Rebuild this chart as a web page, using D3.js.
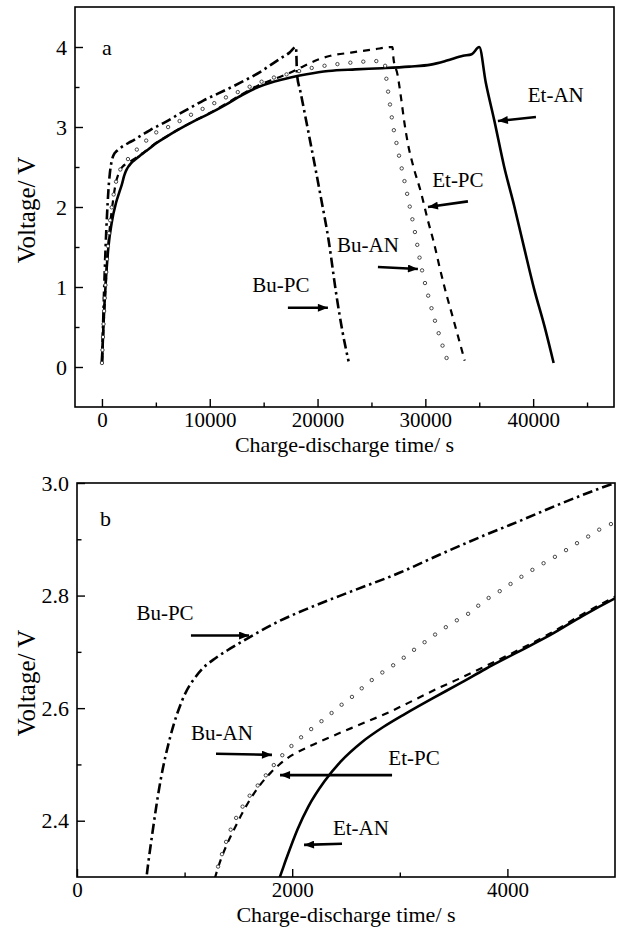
<!DOCTYPE html>
<html>
<head>
<meta charset="utf-8">
<script src="https://cdn.jsdelivr.net/npm/d3@7"></script>
<style>
body { margin: 0; background: #fff; }
svg text { font-family: "Liberation Serif", "Times New Roman", serif; fill: #000; }
</style>
</head>
<body>
<svg id="chart" width="622" height="928"></svg>
<script>
// charge-discharge curves, [time s, voltage V]
const etAN = [
  [0,0.05],[150,0.55],[350,1.05],[600,1.5],[900,1.8],[1300,2.05],[1600,2.18],[1885,2.3],[1950,2.335],[2050,2.385],
  [2150,2.425],[2300,2.47],[2450,2.505],[2650,2.54],[2850,2.567],[3050,2.59],[3300,2.617],[3550,2.643],[3800,2.67],
  [4100,2.70],[4400,2.73],[4700,2.764],[5000,2.795],
  [6000,2.88],[7000,2.96],[8500,3.07],[10000,3.17],[11500,3.28],[13000,3.4],[14500,3.5],[16000,3.57],[17500,3.62],
  [19000,3.66],[21000,3.7],[23500,3.72],[26000,3.735],[28500,3.755],[30500,3.78],[32000,3.83],[33500,3.89],[34300,3.91],
  [35000,4.0],[35600,3.56],[36400,3.08],[37300,2.51],[38250,2.01],[39200,1.47],[40100,0.97],[41050,0.51],[41900,0.05]
];
const etPC = [
  [0,0.05],[200,0.65],[450,1.25],[700,1.7],[1000,2.05],[1300,2.31],[1500,2.4],[1687,2.46],[1799,2.485],[1948,2.51],
  [2171,2.533],[2395,2.552],[2618,2.57],[2879,2.591],[3140,2.615],[3363,2.636],[3549,2.652],[3800,2.675],
  [4100,2.703],[4400,2.733],[4700,2.767],[5000,2.798],
  [6000,2.882],[7000,2.962],[8500,3.072],[10000,3.175],[11500,3.29],[13000,3.41],[14500,3.52],[16000,3.6],[17500,3.68],
  [18700,3.76],[20000,3.84],[21200,3.89],[23100,3.93],[25200,3.97],[26950,4.0],
  [27050,3.85],[27410,3.66],[27750,3.36],[28050,3.06],[28400,2.78],[28900,2.5],[29600,2.18],[30200,1.85],[30800,1.55],
  [31300,1.26],[31850,0.96],[32550,0.62],[33100,0.35],[33650,0.08]
];
const buPC = [
  [0,0.05],[120,0.6],[260,1.2],[400,1.7],[530,2.05],[652,2.309],[700,2.377],[775,2.47],[868,2.55],[980,2.615],
  [1128,2.662],[1296,2.69],[1426,2.706],[1594,2.725],[1873,2.754],[2171,2.779],[2544,2.807],[2991,2.84],[3363,2.872],
  [3736,2.903],[4108,2.932],[4480,2.962],[4853,2.99],[5000,3.0],
  [6000,3.07],[7000,3.15],[8200,3.24],[9400,3.33],[10800,3.42],[12200,3.51],[13500,3.6],[14700,3.69],[15700,3.78],
  [16600,3.86],[17400,3.93],[18000,4.0],
  [18100,3.65],[18400,3.45],[19160,2.93],[20280,2.14],[21020,1.59],[21770,0.88],[22330,0.43],[22880,0.07]
];
const buAN = [
  [0,0.05],[200,0.7],[450,1.3],[700,1.75],[1000,2.08],[1296,2.309],[1426,2.383],[1575,2.436],[1724,2.473],[1873,2.509],
  [2022,2.538],[2171,2.562],[2320,2.584],[2432,2.602],[2562,2.621],[2693,2.643],[2842,2.664],[2991,2.683],[3121,2.702],
  [3251,2.72],[3382,2.738],[3512,2.754],[3661,2.771],[3773,2.789],[3922,2.807],[4071,2.826],[4201,2.842],[4350,2.859],
  [4480,2.873],[4629,2.891],[4760,2.906],[4890,2.921],[5000,2.93],
  [6000,2.99],[7000,3.06],[8500,3.17],[10000,3.27],[11500,3.37],[13000,3.46],[14500,3.55],[16000,3.62],[17500,3.67],
  [18600,3.71],[19700,3.745],[20900,3.77],[22100,3.79],[24000,3.815],[26200,3.825],
  [26350,3.64],[26700,3.3],[27000,3.02],[27350,2.78],[27700,2.55],[28100,2.3],[28500,2.04],[29000,1.71],[29600,1.27],
  [30500,0.77],[31400,0.35],[32000,0.1]
];

// axis ticks
const aXMajor = [0, 10000, 20000, 30000, 40000];
const aXMinor = [5000, 15000, 25000, 35000, 45000];
const aYMajor = [0, 1, 2, 3, 4];
const aYMinor = [0.5, 1.5, 2.5, 3.5];
const bXMajor = [0, 2000, 4000];
const bXMinor = [1000, 3000];
const bYMajor = [2.4, 2.6, 2.8, 3.0];
const bYMinor = [2.5, 2.7, 2.9];

// labels with arrows: text anchor [t, V], arrow from -> to
const aNotes = [
  {label: 'Et-AN', at: [42100, 3.31], from: [40260, 3.125], to: [36730, 3.075]},
  {label: 'Et-PC', at: [33020, 2.25], from: [33950, 2.07], to: [30240, 2.0]},
  {label: 'Bu-AN', at: [24680, 1.44], from: [25600, 1.25], to: [29310, 1.225]},
  {label: 'Bu-PC', at: [16600, 0.94], from: [17250, 0.74], to: [20960, 0.74]}
];
const bNotes = [
  {label: 'Bu-PC', at: [818, 2.757], from: [1059, 2.729], to: [1599, 2.729]},
  {label: 'Bu-AN', at: [1348, 2.543], from: [1292, 2.519], to: [1812, 2.517]},
  {label: 'Et-PC', at: [3132, 2.499], from: [2928, 2.481], to: [1887, 2.481]},
  {label: 'Et-AN', at: [2639, 2.375], from: [2463, 2.359], to: [2110, 2.357]}
];

const svg = d3.select('#chart');

svg.append('defs').append('marker')
  .attr('id', 'head')
  .attr('viewBox', '0 0 10 8')
  .attr('refX', 10).attr('refY', 4)
  .attr('markerWidth', 11).attr('markerHeight', 8)
  .attr('markerUnits', 'userSpaceOnUse')
  .attr('orient', 'auto')
  .append('path').attr('d', 'M0,0 L10,4 L0,8 Z').attr('fill', '#000');

const series = [
  {data: etAN, width: 2.6, dash: null},
  {data: etPC, width: 2.2, dash: '7,6'},
  {data: buPC, width: 2.6, dash: '10,4,2.5,4'},
  {data: buAN, markers: true}
];

function drawPanel(o) {
  const x = d3.scaleLinear().domain(o.xDomain).range([o.left, o.right]);
  const y = d3.scaleLinear().domain(o.yDomain).range([o.bottom, o.top]);
  const g = svg.append('g');

  const clipId = 'clip-' + o.tag;
  g.append('clipPath').attr('id', clipId)
    .append('rect')
    .attr('x', o.left).attr('y', o.top)
    .attr('width', o.right - o.left).attr('height', o.bottom - o.top);

  // axes (ticks inward)
  const xAx = g.append('g').attr('transform', `translate(0,${o.bottom})`)
    .call(d3.axisBottom(x).tickValues(o.xMajor).tickSizeInner(-8).tickSizeOuter(0).tickPadding(5).tickFormat(d3.format('d')));
  g.append('g').attr('transform', `translate(0,${o.bottom})`)
    .call(d3.axisBottom(x).tickValues(o.xMinor).tickSizeInner(-4.5).tickSizeOuter(0).tickFormat(''));
  const yAx = g.append('g').attr('transform', `translate(${o.left},0)`)
    .call(d3.axisLeft(y).tickValues(o.yMajor).tickSizeInner(-8).tickSizeOuter(0).tickPadding(8).tickFormat(o.yFormat));
  g.append('g').attr('transform', `translate(${o.left},0)`)
    .call(d3.axisLeft(y).tickValues(o.yMinor).tickSizeInner(-4.5).tickSizeOuter(0).tickFormat(''));
  g.selectAll('.domain').remove();
  g.selectAll('.tick line').attr('stroke', '#000').attr('stroke-width', 1.4);
  xAx.selectAll('text').style('font-size', '21px');
  yAx.selectAll('text').style('font-size', '22px');

  // frame
  g.append('rect')
    .attr('x', o.left).attr('y', o.top)
    .attr('width', o.right - o.left).attr('height', o.bottom - o.top)
    .attr('fill', 'none').attr('stroke', '#000').attr('stroke-width', 1.6);

  const line = d3.line().x(d => x(d[0])).y(d => y(d[1])).curve(d3.curveMonotoneX);
  const plot = g.append('g').attr('clip-path', `url(#${clipId})`);

  series.forEach(s => {
    const p = plot.append('path')
      .attr('d', line(s.data))
      .attr('fill', 'none');
    if (s.markers) {
      p.attr('stroke', 'none');
      const node = p.node();
      const len = node.getTotalLength();
      const pts = d3.range(0, len, 13).map(l => node.getPointAtLength(l));
      plot.selectAll(null).data(pts).enter().append('circle')
        .attr('cx', d => d.x).attr('cy', d => d.y).attr('r', 1.7)
        .attr('fill', '#fff').attr('stroke', '#333').attr('stroke-width', 0.9);
    } else {
      p.attr('stroke', '#000').attr('stroke-width', s.width);
      if (s.dash) p.attr('stroke-dasharray', s.dash);
    }
  });

  // axis titles
  g.append('text')
    .attr('x', (o.left + o.right) / 2).attr('y', o.bottom + 45)
    .attr('text-anchor', 'middle').style('font-size', '22px')
    .text('Charge-discharge time/ s');
  g.append('text')
    .attr('transform', `translate(35,${(o.top + o.bottom) / 2 + 3}) rotate(-90)`)
    .attr('text-anchor', 'middle').style('font-size', '25px')
    .text('Voltage/ V');

  // panel tag
  g.append('text')
    .attr('x', x(o.tagAt[0])).attr('y', y(o.tagAt[1]))
    .style('font-size', '22px').text(o.tag);

  // annotations
  o.notes.forEach(n => {
    g.append('text')
      .attr('x', x(n.at[0])).attr('y', y(n.at[1]))
      .attr('text-anchor', 'middle').style('font-size', '21px')
      .text(n.label);
    g.append('line')
      .attr('x1', x(n.from[0])).attr('y1', y(n.from[1]))
      .attr('x2', x(n.to[0])).attr('y2', y(n.to[1]))
      .attr('stroke', '#000').attr('stroke-width', 2.6)
      .attr('marker-end', 'url(#head)');
  });
}

drawPanel({
  tag: 'a', left: 75, right: 614, top: 7, bottom: 407,
  xDomain: [-2500, 47500], yDomain: [-0.5, 4.5],
  xMajor: aXMajor, xMinor: aXMinor, yMajor: aYMajor, yMinor: aYMinor,
  yFormat: d3.format('d'), tagAt: [0, 3.9], notes: aNotes
});

drawPanel({
  tag: 'b', left: 77, right: 615, top: 483, bottom: 877,
  xDomain: [0, 5000], yDomain: [2.3, 3.0],
  xMajor: bXMajor, xMinor: bXMinor, yMajor: bYMajor, yMinor: bYMinor,
  yFormat: d3.format('.1f'), tagAt: [214, 2.924], notes: bNotes
});
</script>
</body>
</html>
